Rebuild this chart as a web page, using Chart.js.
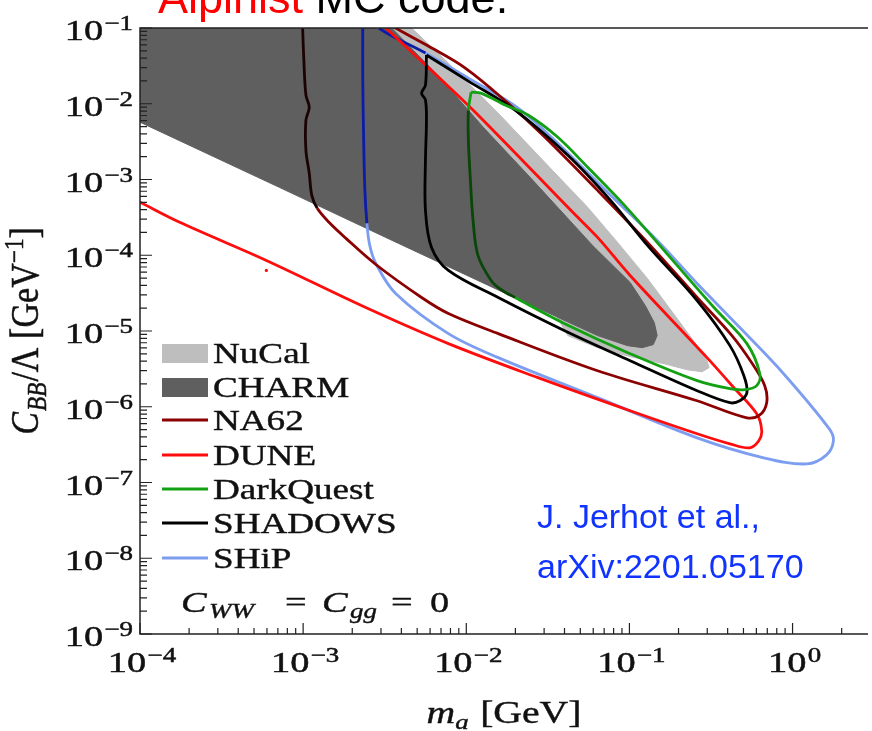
<!DOCTYPE html>
<html>
<head>
<meta charset="utf-8">
<title>Alpinist - C_BB reach</title>
<script src="https://cdn.jsdelivr.net/npm/chart.js"></script>
<style>
    html, body { margin: 0; padding: 0; background: #fff; }
    #wrap { width: 872px; height: 731px; position: relative; }
</style>
</head>
<body>
<div id="wrap"><canvas id="reachChart"></canvas></div>
<script>
// ======================================================
// AXES
// ======================================================
const xRange = [1e-4, 2.9];
const yRange = [1e-9, 1e-1];
const xDecades = [-4, -3, -2, -1, 0];
const yDecades = [-9, -8, -7, -6, -5, -4, -3, -2, -1];

// ======================================================
// EXCLUDED REGIONS  [m_a (GeV), C_BB/Lambda (GeV^-1)]
// ======================================================
const charmRegion = [
    [1e-4, 0.1], [3.49e-3, 0.1], [6.75e-3, 2.32e-2], [1.27e-2, 4.90e-3], [2.56e-2, 9.75e-4],
    [5.94e-2, 1.35e-4], [0.101, 4.37e-5], [0.125, 2.17e-5], [0.142, 1.29e-5], [0.148, 8.69e-6],
    [0.140, 6.61e-6], [0.120, 6.03e-6], [9.73e-2, 6.41e-6], [6.38e-2, 8.69e-6], [1.80e-2, 3.03e-5],
    [3.85e-3, 1.43e-4], [7.14e-4, 7.88e-4], [1e-4, 5.71e-3]
];

const nucalRegion = [
    [3.12e-3, 0.1], [4.62e-3, 0.1], [7.77e-3, 3.44e-2], [1.57e-2, 7.51e-3], [2.95e-2, 1.79e-3],
    [5.55e-2, 4.29e-4], [8.45e-2, 1.48e-4], [0.129, 4.93e-5], [0.196, 1.46e-5], [0.26, 6.41e-6],
    [0.299, 4.06e-6], [0.308, 3.28e-6], [0.279, 2.9e-6], [0.226, 3.08e-6], [0.163, 3.7e-6],
    [0.101, 4.59e-6], [6.38e-2, 6.03e-6], [4.19e-2, 8.69e-6], [2.08e-2, 1.16e-4], [6.75e-3, 3.3e-3]
];

// ======================================================
// SENSITIVITY CURVES
// ======================================================
const na62Curve = [
    [9.9e-4, 0.12], [1.01e-3, 3.77e-2], [1.04e-3, 1.3e-2], [1.09e-3, 9.0e-3], [1.04e-3, 6.07e-3],
    [1.04e-3, 2.43e-3], [1.09e-3, 1.21e-3], [1.13e-3, 6.18e-4], [1.22e-3, 4.16e-4], [1.44e-3, 2.72e-4],
    [1.83e-3, 1.67e-4], [2.79e-3, 7.55e-5], [5.32e-3, 2.77e-5], [7.77e-3, 1.70e-5], [1.57e-2, 9.24e-6],
    [6.38e-2, 2.99e-6], [0.26, 1.20e-6], [0.525, 7.15e-7], [0.63, 7.8e-7], [0.694, 1.13e-6],
    [0.675, 1.9e-6], [0.562, 3.8e-6], [0.425, 8.7e-6], [0.26, 2.77e-5], [0.129, 1.48e-4],
    [6.38e-2, 7.19e-4], [2.95e-2, 3.85e-3], [1.80e-2, 1.02e-2], [9.86e-3, 2.96e-2], [5.70e-3, 5.96e-2],
    [3.69e-3, 0.1], [3.12e-3, 0.128]
];

const duneCurve = [
    [1e-4, 5.0e-4], [1.75e-4, 2.72e-4], [5.95e-4, 8.54e-5], [2.42e-3, 2.04e-5], [7.77e-3, 6.81e-6],
    [2.75e-2, 2.42e-6], [0.101, 8.85e-7], [0.26, 4.40e-7], [0.413, 3.24e-7], [0.547, 2.87e-7],
    [0.621, 3.55e-7], [0.647, 4.82e-7], [0.603, 8.07e-7], [0.437, 1.78e-6], [0.299, 4.45e-6],
    [0.101, 5.41e-5], [6.38e-2, 1.72e-4], [4.37e-2, 3.92e-4], [1.18e-2, 7.1e-3], [6.75e-3, 2.25e-2],
    [3.21e-3, 0.1], [2.83e-3, 0.128]
];
const duneSpeck = [[5.95e-4, 6.3e-5]];

const darkQuestCurve = [
    [1.07e-2, 1.42e-2], [1.23e-2, 1.38e-2], [1.73e-2, 9.6e-3], [2.39e-2, 7.1e-3], [3.64e-2, 3.61e-3],
    [5.55e-2, 1.45e-3], [9.33e-2, 4.56e-4], [0.163, 1.16e-4], [0.33, 2.04e-5], [0.525, 6.81e-6],
    [0.63, 2.73e-6], [0.603, 1.90e-6], [0.51, 1.68e-6], [0.413, 1.73e-6], [0.26, 2.21e-6],
    [0.101, 5.02e-6], [4.01e-2, 1.25e-5], [1.99e-2, 2.77e-5], [1.63e-2, 3.53e-5], [1.42e-2, 4.65e-5],
    [1.18e-2, 9.9e-5], [1.10e-2, 2.9e-4], [1.06e-2, 9.75e-4], [1.03e-2, 3.3e-3], [1.03e-2, 8.2e-3],
    [1.07e-2, 1.42e-2]
];

const shadowsCurve = [
    [5.70e-3, 4.40e-2], [1.03e-2, 1.99e-2], [1.99e-2, 8.23e-3], [4.19e-2, 2.09e-3], [7.66e-2, 5.31e-4],
    [0.129, 1.35e-4], [0.26, 2.52e-5], [0.413, 6.41e-6], [0.503, 2.57e-6], [0.525, 1.53e-6],
    [0.475, 1.2e-6], [0.413, 1.13e-6], [0.26, 1.63e-6], [0.101, 4.06e-6], [4.01e-2, 1.01e-5],
    [1.57e-2, 2.77e-5], [7.77e-3, 6.3e-5], [6.12e-3, 1.27e-4], [5.62e-3, 3.92e-4], [5.62e-3, 1.79e-3],
    [5.70e-3, 6.07e-3], [5.62e-3, 1.12e-2], [5.32e-3, 1.38e-2], [5.62e-3, 1.76e-2], [5.70e-3, 4.40e-2]
];

const shipCurve = [
    [2.32e-3, 0.128], [2.32e-3, 2.05e-2], [2.35e-3, 3.3e-3], [2.39e-3, 7.2e-4], [2.46e-3, 2.64e-4],
    [2.56e-3, 1.35e-4], [2.79e-3, 7.79e-5], [3.69e-3, 3.13e-5], [7.77e-3, 9.24e-6], [1.57e-2, 4.45e-6],
    [6.38e-2, 1.32e-6], [0.26, 3.89e-7], [0.665, 2.12e-7], [1.22, 1.76e-7], [1.61, 2.3e-7],
    [1.78, 3.55e-7], [1.68, 5.1e-7], [0.881, 2.73e-6], [0.475, 1.11e-5], [0.26, 4.24e-5],
    [0.148, 1.57e-4], [7.66e-2, 6.18e-4], [3.64e-2, 3.01e-3], [2.08e-2, 8.75e-3], [1.03e-2, 2.18e-2],
    [5.62e-3, 4.67e-2], [2.91e-3, 0.1], [2.60e-3, 0.149]
];

// ======================================================
// STYLE HELPERS
// ======================================================
const SERIF = '"Liberation Serif", "Times New Roman", serif';
const SANS = '"Liberation Sans", Arial, sans-serif';
const STRETCH = 1.28;   // the original figure is squeezed wide

const toPts = arr => arr.map(([x, y]) => ({ x, y }));

// point in CHARM polygon, done in log space
function inCharm(m, c) {
    const px = Math.log10(m), py = Math.log10(c);
    let inside = false;
    for (let i = 0, j = charmRegion.length - 1; i < charmRegion.length; j = i++) {
        const xi = Math.log10(charmRegion[i][0]), yi = Math.log10(charmRegion[i][1]);
        const xj = Math.log10(charmRegion[j][0]), yj = Math.log10(charmRegion[j][1]);
        if ((yi > py) !== (yj > py) && px < (xj - xi) * (py - yi) / (yj - yi) + xi) inside = !inside;
    }
    return inside;
}

function curve(label, pts, color, shade, order) {
    const ds = {
        label, data: toPts(pts), showLine: true, kind: "line",
        borderColor: color, borderWidth: 2.8, pointRadius: 0,
        tension: 0.35, fill: false, order
    };
    if (shade) {
        ds.segment = {
            borderColor: c => inCharm(Math.sqrt(c.p0.parsed.x * c.p1.parsed.x),
                                      Math.sqrt(c.p0.parsed.y * c.p1.parsed.y)) ? shade : undefined
        };
    }
    return ds;
}

function region(label, pts, color, order) {
    return {
        label, data: toPts(pts), showLine: true, kind: "box",
        borderColor: color, borderWidth: 1, backgroundColor: color,
        pointRadius: 0, tension: 0, fill: "shape", order
    };
}

// draw a row of text runs, each {t, font, dy, gap}
function drawRuns(ctx, runs, x, y, align, bold) {
    let w = 0;
    runs.forEach(r => {
        ctx.font = r.font;
        r.w = ctx.measureText(r.t).width;
        w += r.w + (r.gap || 0);
    });
    let cx = align === "center" ? x - w / 2 : align === "right" ? x - w : x;
    runs.forEach(r => {
        ctx.font = r.font;
        if (r.color) ctx.fillStyle = r.color;
        ctx.fillText(r.t, cx, y + (r.dy || 0));
        if (bold) {
            ctx.strokeStyle = ctx.fillStyle;
            ctx.lineWidth = bold;
            ctx.strokeText(r.t, cx, y + (r.dy || 0));
        }
        cx += r.w + (r.gap || 0);
    });
    return w;
}

function stretched(ctx, x, y, sx, sy, fn) {
    ctx.save();
    ctx.translate(x, y);
    ctx.scale(sx, sy);
    fn();
    ctx.restore();
}

function powRuns(exp) {
    const sup = exp < 0 ? "\u2212" + (-exp) : String(exp);
    return [
        { t: "10", font: `30px ${SERIF}`, gap: 1 },
        { t: sup, font: `21px ${SERIF}`, dy: -10 }
    ];
}

// ======================================================
// DECORATIONS PLUGIN (frame, ticks, labels, legend, notes)
// ======================================================
const decorations = {
    id: "decorations",
    afterDraw(chart) {
        const { ctx, chartArea: a, scales: { x, y } } = chart;
        ctx.save();
        ctx.textBaseline = "alphabetic";
        ctx.textAlign = "left";
        ctx.fillStyle = "#111";

        // frame
        ctx.strokeStyle = "#222";
        ctx.lineWidth = 1.5;
        ctx.beginPath();
        ctx.moveTo(a.right, a.top); ctx.lineTo(a.left, a.top);
        ctx.lineTo(a.left, a.bottom); ctx.lineTo(a.right, a.bottom);
        ctx.stroke();

        // ticks, inward
        ctx.lineWidth = 1.2;
        ctx.beginPath();
        xDecades.concat([1]).forEach(d => {
            for (let k = 1; k <= 9; k++) {
                const v = k * Math.pow(10, d);
                if (v < xRange[0] || v > xRange[1]) continue;
                const px = x.getPixelForValue(v);
                ctx.moveTo(px, a.bottom);
                ctx.lineTo(px, a.bottom - (k === 1 ? 11 : 6));
            }
        });
        yDecades.forEach(d => {
            for (let k = 1; k <= 9; k++) {
                const v = k * Math.pow(10, d);
                if (v < yRange[0] || v > yRange[1]) continue;
                const py = y.getPixelForValue(v);
                ctx.moveTo(a.left, py);
                ctx.lineTo(a.left + (k === 1 ? 12 : 7), py);
            }
        });
        ctx.stroke();

        // tick labels
        ctx.fillStyle = "#111";
        yDecades.forEach(d => {
            const py = y.getPixelForValue(Math.pow(10, d));
            stretched(ctx, a.left - 7, py + 12, STRETCH, 1, () => drawRuns(ctx, powRuns(d), 0, 0, "right", 0.5));
        });
        xDecades.forEach(d => {
            const px = x.getPixelForValue(Math.pow(10, d));
            stretched(ctx, px + 2, a.bottom + 38, STRETCH, 1, () => drawRuns(ctx, powRuns(d), 0, 0, "center", 0.5));
        });

        // axis titles
        stretched(ctx, (a.left + a.right) / 2, 723, STRETCH, 1, () => drawRuns(ctx, [
            { t: "m", font: `italic 31px ${SERIF}` },
            { t: "a", font: `italic 21px ${SERIF}`, dy: 6, gap: 9 },
            { t: "[GeV]", font: `31px ${SERIF}` }
        ], 0, 0, "center", 0.4));

        ctx.save();
        ctx.translate(38, (a.top + a.bottom) / 2);
        ctx.rotate(-Math.PI / 2);
        ctx.scale(1.1, STRETCH);
        drawRuns(ctx, [
            { t: "C", font: `italic 31px ${SERIF}`, gap: 1 },
            { t: "BB", font: `italic 21px ${SERIF}`, dy: 6, gap: 1 },
            { t: "/\u039B [GeV", font: `31px ${SERIF}` },
            { t: "\u22121", font: `21px ${SERIF}`, dy: -12 },
            { t: "]", font: `31px ${SERIF}` }
        ], 0, 0, "center", 0.4);
        ctx.restore();

        // legend, built from the datasets
        const rowY = [353, 387, 420, 455, 489, 523, 558];
        chart.data.datasets.filter(ds => ds.kind !== "dot").forEach((ds, i) => {
            const cy = rowY[i];
            if (ds.kind === "box") {
                ctx.fillStyle = ds.backgroundColor;
                ctx.fillRect(162, cy - 9, 46, 19);
            } else {
                ctx.strokeStyle = ds.borderColor;
                ctx.lineWidth = 2.8;
                ctx.beginPath();
                ctx.moveTo(162, cy); ctx.lineTo(208, cy);
                ctx.stroke();
            }
            ctx.fillStyle = "#111";
            stretched(ctx, 213, cy + 10, STRETCH, 1, () => drawRuns(ctx, [{ t: ds.label, font: `29px ${SERIF}` }], 0, 0, "left", 0.4));
        });

        // coupling note
        const note = [
            ["C", `italic 30px ${SERIF}`, 181, 612],
            ["WW", `italic 21px ${SERIF}`, 209, 618],
            ["=", `30px ${SERIF}`, 285, 612],
            ["C", `italic 30px ${SERIF}`, 322, 612],
            ["gg", `italic 21px ${SERIF}`, 350, 618],
            ["=", `30px ${SERIF}`, 391, 612],
            ["0", `30px ${SERIF}`, 430, 612]
        ];
        ctx.fillStyle = "#111";
        note.forEach(([t, f, nx, ny]) => stretched(ctx, nx, ny, STRETCH, 1, () => drawRuns(ctx, [{ t, font: f }], 0, 0, "left", 0.4)));

        // reference
        ctx.fillStyle = "#1133ff";
        ctx.font = `34px ${SANS}`;
        ctx.fillText("J. Jerhot et al.,", 537, 528);
        ctx.fillText("arXiv:2201.05170", 537, 578);

        // slide title (cut at the top)
        drawRuns(ctx, [
            { t: "Alpinist", font: `45px ${SANS}`, color: "#ff0000" },
            { t: " MC code.", font: `45px ${SANS}`, color: "#000000" }
        ], 158, 13, "left");

        ctx.restore();
    }
};

// ======================================================
// CHART
// ======================================================
const datasets = [
    region("NuCal", nucalRegion, "#bebebe", 11),
    region("CHARM", charmRegion, "#5f5f5f", 10),
    curve("NA62", na62Curve, "#8b0000", "#1c0303", 2),
    curve("DUNE", duneCurve, "#ff0d0d", null, 3),
    curve("DarkQuest", darkQuestCurve, "#13a013", "#0a460a", 0),
    curve("SHADOWS", shadowsCurve, "#000000", null, 1),
    curve("SHiP", shipCurve, "#7c9df0", "#0c1ca8", 4),
    {
        label: "DUNE speck", kind: "dot", data: toPts(duneSpeck), showLine: false,
        pointRadius: 1.6, pointBorderWidth: 0, pointBackgroundColor: "#ff0d0d", order: 3
    }
];

new Chart(document.getElementById("reachChart"), {
    type: "scatter",
    data: { datasets },
    options: {
        responsive: true,
        maintainAspectRatio: false,
        animation: false,
        layout: { padding: { top: 28, left: 0, right: 0, bottom: 0 } },
        plugins: {
            legend: { display: false },
            tooltip: { enabled: false }
        },
        scales: {
            x: {
                type: "logarithmic", min: xRange[0], max: xRange[1],
                ticks: { display: false }, grid: { display: false }, border: { display: false },
                afterFit: s => { s.height = 97; }
            },
            y: {
                type: "logarithmic", min: yRange[0], max: yRange[1],
                ticks: { display: false }, grid: { display: false }, border: { display: false },
                afterFit: s => { s.width = 140; }
            }
        }
    },
    plugins: [decorations]
});
</script>
</body>
</html>
